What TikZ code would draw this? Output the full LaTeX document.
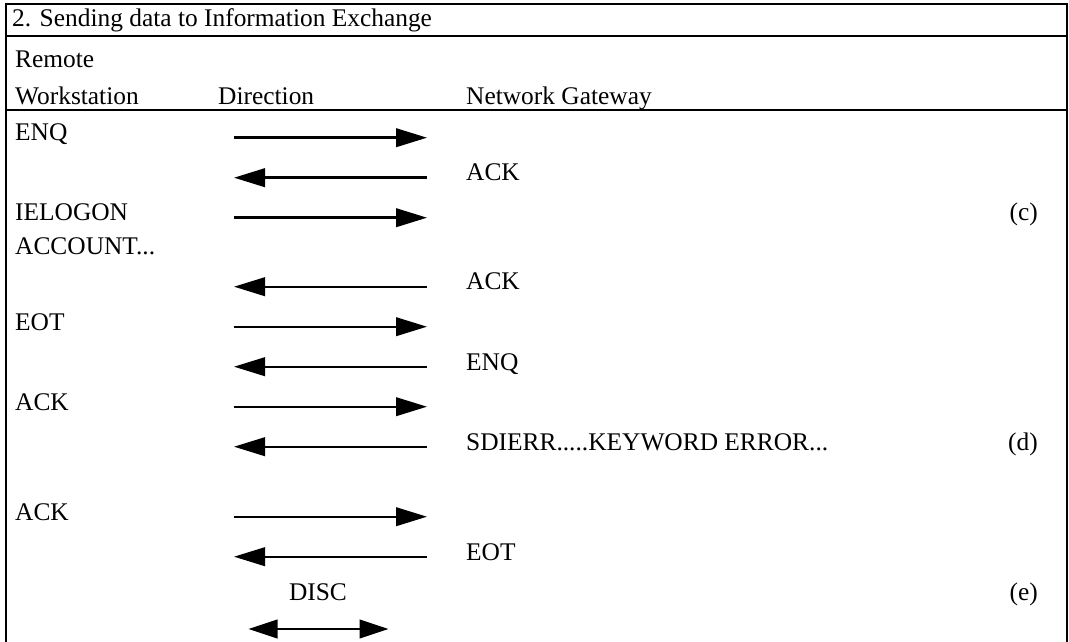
\documentclass[tikz,border=0pt]{standalone}
\usepackage{fontspec}
\setmainfont{Liberation Serif}
\usetikzlibrary{arrows.meta}
\newcommand{\rowfont}{\fontsize{25.5}{30}\selectfont}
\tikzset{
  frame/.style={line width=2.2bp, black},
  msg/.style={line width=2.4bp, -{Triangle[length=31bp, width=18.5bp]}},
  msgboth/.style={line width=2.4bp, {Triangle[length=29bp, width=18.5bp]}-{Triangle[length=29bp, width=18.5bp]}},
  txt/.style={anchor=base west, inner sep=0pt, font=\rowfont},
  tag/.style={anchor=base east, inner sep=0pt, font=\rowfont}
}
\begin{document}
\begin{tikzpicture}[x=1bp, y=-1bp]
  \useasboundingbox (0,0) rectangle (1069,642);

  % table frame (open at the bottom)
  \coordinate (tl) at (6,4);
  \coordinate (tr) at (1067,4);
  \coordinate (bl) at (6,642);
  \coordinate (br) at (1067,642);
  \coordinate (h1l) at (6,36);
  \coordinate (h1r) at (1067,36);
  \coordinate (h2l) at (6,110);
  \coordinate (h2r) at (1067,110);
  \draw[frame] (bl) -- (tl) -- (tr) -- (br);
  \draw[frame] (h1l) -- (h1r);
  \draw[frame] (h2l) -- (h2r);

  % headings
  \node[txt] (title) at (12,27) {2. Sending data to Information Exchange};
  \node[txt] (hrem)  at (15,68) {Remote};
  \node[txt] (hws)   at (15,105) {Workstation};
  \node[txt] (hdir)  at (218,105) {Direction};
  \node[txt] (hgw)   at (466,105) {Network Gateway};

  % workstation side
  \node[txt] (w1) at (15,141) {ENQ};
  \node[txt] (w2) at (15,221) {IELOGON};
  \node[txt] (w3) at (15,255) {ACCOUNT...};
  \node[txt] (w4) at (15,330) {EOT};
  \node[txt] (w5) at (15,410) {ACK};
  \node[txt] (w6) at (15,520) {ACK};

  % gateway side
  \node[txt] (g1) at (466,181) {ACK};
  \node[txt] (g2) at (466,290) {ACK};
  \node[txt] (g3) at (466,370) {ENQ};
  \node[txt] (g4) at (466,450) {SDIERR.....KEYWORD ERROR...};
  \node[txt] (g5) at (466,560) {EOT};

  % notes
  \node[tag] (nc) at (1038,221) {(c)};
  \node[tag] (nd) at (1038,450) {(d)};
  \node[tag] (ne) at (1038,600) {(e)};

  % messages towards the gateway
  \foreach \y/\n in {137.7/1, 217.7/3, 326.7/5, 406.7/7, 516.7/9} {
    \coordinate (L\n) at (233.5,\y);
    \coordinate (R\n) at (427,\y);
    \draw[msg] (L\n) -- (R\n);
  }
  % messages towards the workstation
  \foreach \y/\n in {177.7/2, 286.7/4, 366.7/6, 446.7/8, 556.7/10} {
    \coordinate (L\n) at (234,\y);
    \coordinate (R\n) at (427,\y);
    \draw[msg] (R\n) -- (L\n);
  }

  % disconnect
  \node[anchor=base, inner sep=0pt, font=\rowfont] (disc) at (318,600) {DISC};
  \coordinate (dl) at (248.5,629);
  \coordinate (dr) at (388.5,629);
  \draw[msgboth] (dl) -- (dr);
\end{tikzpicture}
\end{document}
